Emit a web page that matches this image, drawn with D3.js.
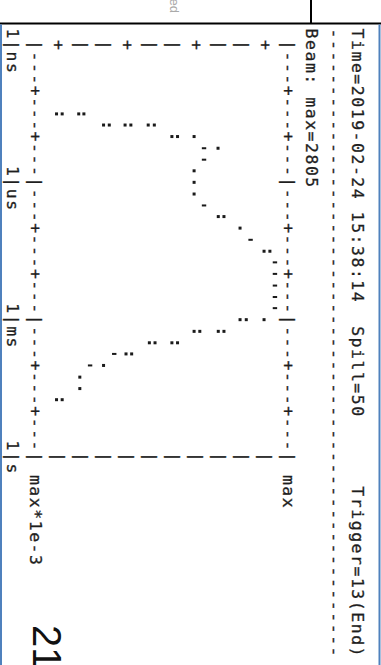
<!DOCTYPE html>
<html>
<head>
<meta charset="utf-8">
<script src="https://cdn.jsdelivr.net/npm/d3@7"></script>
<style>
  html, body { margin: 0; padding: 0; background: #fff; }
  svg { display: block; }
  .mono { font-family: "DejaVu Sans Mono", monospace; font-size: 16.5px; fill: #1e1e1e; stroke: #1e1e1e; stroke-width: 0.3px; }
</style>
</head>
<body>
<svg id="chart" width="381" height="665"></svg>
<script>
// header values
const headerTime = "2019-02-24 15:38:14";
const spill = 50;
const trigger = "13(End)";
const beamMax = 2805;

// time axis decades (s) and their unit names
const decadeTimes = [1e-9, 1e-6, 1e-3, 1];
const decadeUnits = ["ns", "us", "ms", "s"];
// intensity axis labels (top, bottom)
const levelLabels = ["max", "max*1e-3"];

// "." points : time (s), level (fraction of max)
const dotTimes = [
  3.2e-8, 3.2e-8, 3.2e-8, 3.2e-8,
  5.6e-8, 5.6e-8, 5.6e-8, 5.6e-8, 5.6e-8, 5.6e-8,
  1e-7, 1e-7, 1e-7,
  1.8e-7,
  5.6e-7, 1e-6, 1.8e-6,
  5.6e-6, 5.6e-6,
  1e-5,
  3.2e-5, 3.2e-5,
  1e-3, 1e-3, 1e-3,
  1.8e-3, 1.8e-3, 1.8e-3, 1.8e-3,
  3.2e-3, 3.2e-3, 3.2e-3, 3.2e-3,
  5.6e-3, 5.6e-3,
  1e-2,
  1.8e-2, 3.2e-2,
  5.6e-2, 5.6e-2
];
const dotLevels = [
  0.0018, 0.0021, 0.0033, 0.0038,
  0.0065, 0.0076, 0.0117, 0.0137, 0.022, 0.026,
  0.042, 0.049, 0.077,
  0.148,
  0.077, 0.077, 0.077,
  0.149, 0.174,
  0.27,
  0.52, 0.61,
  0.27, 0.32, 0.52,
  0.077, 0.090, 0.149, 0.174,
  0.0227, 0.0265, 0.042, 0.049,
  0.0120, 0.0140,
  0.0065,
  0.0034, 0.0034,
  0.0018, 0.0021
];

// "'" points (top of cell)
const tickTimes = [1.8e-7, 3.2e-7, 3.2e-6, 1.8e-5, 5.6e-5, 1e-4, 1.8e-4, 3.2e-4, 5.6e-4, 5.6e-3, 1e-2];
const tickLevels = [0.101, 0.101, 0.101, 0.36, 0.70, 0.70, 0.70, 0.70, 0.70, 0.0087, 0.0045];

const W = 381, H = 665;
const svg = d3.select("#chart");

// character grid of the printout (drawn unrotated, then turned 90deg)
const cols = d3.scaleLinear().domain([1, 37]).range([45, 457]);
const rows = d3.scaleLinear().domain([0, 11]).range([93, 346]);
const x = d3.scaleLog().domain([decadeTimes[0], decadeTimes[3]]).range([cols(1), cols(37)]);
const y = d3.scaleLog().domain([1e-3, 1]).range([rows(11), rows(0)]);

const page = svg.append("g").attr("transform", "translate(" + W + ",0) rotate(90)");

// build text lines as [row, startCol, string]
const lines = [];
lines.push([-3, 0, "Time=" + headerTime + "  Spill=" + spill + "      Trigger=" + trigger]);
lines.push([-2, 0, "-".repeat(55)]);
lines.push([-1, 0, "Beam: max=" + beamMax]);

let border = "";
for (let c = 1; c <= 37; c++) {
  border += (c - 1) % 12 === 0 ? "|" : (c - 1) % 4 === 0 ? "+" : "-";
}
lines.push([0, 1, border + " " + levelLabels[0]]);
lines.push([11, 1, border + " " + levelLabels[1]]);
for (let r = 1; r <= 10; r++) {
  lines.push([r, 1, ((r - 1) % 3 === 0 ? "+" : "|") + " ".repeat(35) + "|"]);
}
decadeTimes.forEach((t, i) => {
  const c = cols.invert(x(t));
  lines.push([12, Math.round(c) - 1, "1|" + decadeUnits[i]]);
});

const chars = [];
lines.forEach(([r, c0, s]) => {
  [...s].forEach((ch, i) => {
    if (ch !== " ") chars.push({ r: r, c: c0 + i, ch: ch });
  });
});

page.append("g").selectAll("text")
  .data(chars)
  .enter()
  .append("text")
  .attr("class", "mono")
  .attr("x", d => cols(d.c))
  .attr("y", d => rows(d.r) + 5)
  .attr("text-anchor", "middle")
  .text(d => d.ch);

// points
page.append("g").selectAll("rect")
  .data(dotTimes.map((t, i) => ({ t: t, v: dotLevels[i] })))
  .enter()
  .append("rect")
  .attr("x", d => x(d.t) - 1.5)
  .attr("y", d => y(d.v) - 1.5)
  .attr("width", 3)
  .attr("height", 3)
  .attr("fill", "#1a1a1a");

page.append("g").selectAll("rect")
  .data(tickTimes.map((t, i) => ({ t: t, v: tickLevels[i] })))
  .enter()
  .append("rect")
  .attr("x", d => x(d.t) - 1)
  .attr("y", d => y(d.v) - 2.2)
  .attr("width", 2)
  .attr("height", 4.4)
  .attr("fill", "#1a1a1a");

// page number and clipped caption
page.append("text")
  .attr("x", 625)
  .attr("y", 348)
  .style("font-family", "'Liberation Sans', Arial, sans-serif")
  .style("font-size", "40px")
  .attr("fill", "#111")
  .text("21");

page.append("text")
  .attr("x", 13)
  .attr("y", 211)
  .attr("text-anchor", "end")
  .style("font-family", "'Liberation Sans', Arial, sans-serif")
  .style("font-size", "13px")
  .attr("fill", "#aaa")
  .text("ed");

// table frame
svg.append("line").attr("x1", 0).attr("x2", W).attr("y1", 23.5).attr("y2", 23.5)
  .attr("stroke", "#000").attr("stroke-width", 2);
svg.append("line").attr("x1", 311).attr("x2", 311).attr("y1", 0).attr("y2", 23)
  .attr("stroke", "#000").attr("stroke-width", 2);
svg.append("line").attr("x1", 1).attr("x2", 1).attr("y1", 24.5).attr("y2", H)
  .attr("stroke", "#4f81bd").attr("stroke-width", 2);
svg.append("line").attr("x1", 379.5).attr("x2", 379.5).attr("y1", 24.5).attr("y2", H)
  .attr("stroke", "#4f81bd").attr("stroke-width", 2);
</script>
</body>
</html>
